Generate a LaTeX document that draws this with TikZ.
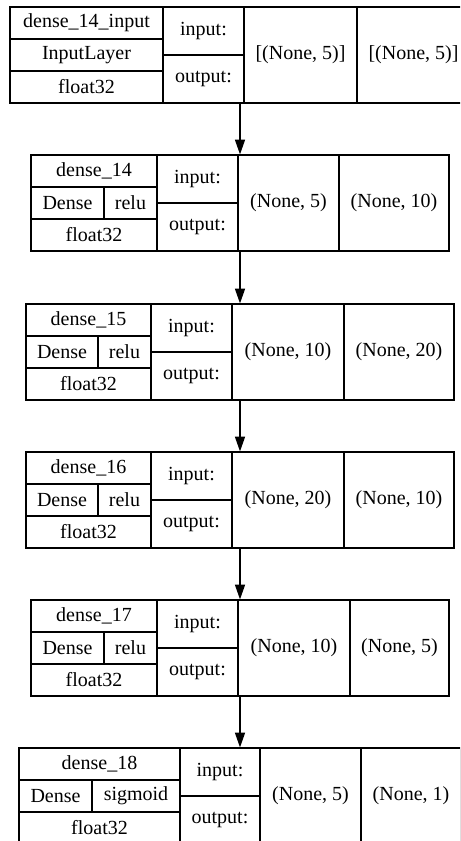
\documentclass[tikz,border=0pt]{standalone}
\usepackage{fontspec}
\setmainfont{Liberation Serif}
\usetikzlibrary{arrows.meta, positioning, calc}

\tikzset{
  cell/.style={inner sep=0pt, anchor=center},
  layerbox/.style={draw, inner sep=0pt, minimum height=72pt},
  flow/.style={-{Triangle[length=11pt,width=7.5pt]}},
}

\begin{document}
\begin{tikzpicture}[x=0.75pt, y=-0.75pt, line width=0.9pt, font=\fontsize{15}{18}\selectfont]
  \useasboundingbox (0,0) rectangle (460,841);
  \clip (0,0) rectangle (460,841);

  % input layer
  \node[layerbox, minimum width=345pt] (b1) at (240,55) {};
  \draw (163,7) -- (163,103) (244,7) -- (244,103) (357,7) -- (357,103);
  \draw (10,39) -- (163,39) (10,71) -- (163,71) (163,55) -- (244,55);
  \node[cell] (n1) at (86.5,23) {dense\_14\_input};
  \node[cell] (k1) at (86.5,55) {InputLayer};
  \node[cell] (f1) at (86.5,87) {float32};
  \node[cell] (i1) at (203.5,31) {input:};
  \node[cell] (o1) at (203.5,79) {output:};
  \node[cell] (si1) at (300.5,55) {[(None, 5)]};
  \node[cell] (so1) at (413.5,55) {[(None, 5)]};

  % dense layers
  \foreach \id/\top/\l/\s/\m/\c/\d/\name/\act/\inp/\outp in {
      2/155/31/104/157/238/339/dense\_14/relu/{(None, 5)}/{(None, 10)},
      3/304/26/98/151/232/344/dense\_15/relu/{(None, 10)}/{(None, 20)},
      4/452/26/98/151/232/344/dense\_16/relu/{(None, 20)}/{(None, 10)},
      5/600/31/104/157/238/350/dense\_17/relu/{(None, 10)}/{(None, 5)},
      6/748/19/92/180/260/361/dense\_18/sigmoid/{(None, 5)}/{(None, 1)}} {
    \node[layerbox, minimum width={(480-2*\l)*0.75pt}] (b\id) at (240,\top+48) {};
    \draw (\m,\top) -- (\m,\top+96) (\c,\top) -- (\c,\top+96) (\d,\top) -- (\d,\top+96);
    \draw (\l,\top+32) -- (\m,\top+32) (\l,\top+64) -- (\m,\top+64)
          (\s,\top+32) -- (\s,\top+64) (\m,\top+48) -- (\c,\top+48);
    \node[cell] (n\id) at ({(\l+\m)/2},\top+16) {\name};
    \node[cell] (k\id) at ({(\l+\s)/2},\top+48) {Dense};
    \node[cell] (a\id) at ({(\s+\m)/2},\top+48) {\act};
    \node[cell] (f\id) at ({(\l+\m)/2},\top+80) {float32};
    \node[cell] (i\id) at ({(\m+\c)/2},\top+24) {input:};
    \node[cell] (o\id) at ({(\m+\c)/2},\top+72) {output:};
    \node[cell] (si\id) at ({(\c+\d)/2},\top+48) {\inp};
    \node[cell] (so\id) at ({(\d+480-\l)/2},\top+48) {\outp};
  }

  \foreach \a/\b in {1/2, 2/3, 3/4, 4/5, 5/6}
    \draw[flow] (b\a.south) -- (b\b.north);
\end{tikzpicture}
\end{document}
